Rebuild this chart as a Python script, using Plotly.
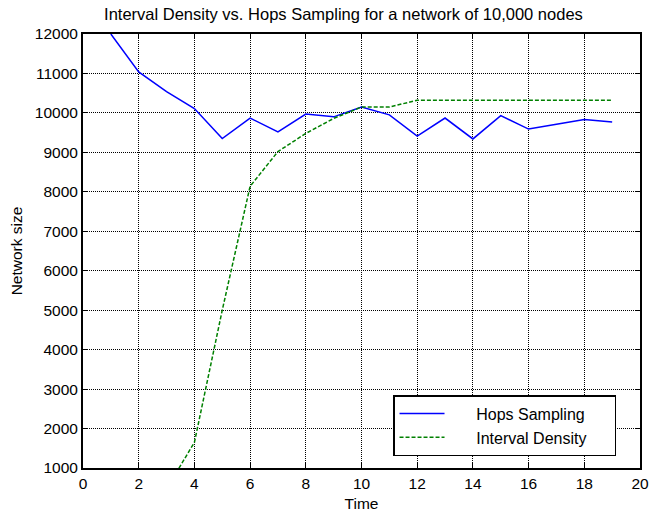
import plotly.graph_objects as go

hops_t = [1, 2, 3, 4, 5, 6, 7, 8, 9, 10, 11, 12, 13, 14, 15, 16, 17, 18, 19]
hops_v = [12000, 11040, 10540, 10110, 9350, 9870, 9520, 9970, 9900, 10150,
          9950, 9410, 9870, 9340, 9930, 9590, 9710, 9830, 9770]

dens_t = [3, 4, 5, 6, 7, 8, 9, 10, 11, 12, 13, 14, 15, 16, 17, 18, 19]
dens_v = [470, 1650, 5000, 8140, 9020, 9480, 9860, 10150, 10150, 10320,
          10320, 10320, 10320, 10320, 10320, 10320, 10320]

series_names = ["Hops Sampling", "Interval Density"]

x_ticks = list(range(0, 21, 2))
y_ticks = list(range(1000, 12001, 1000))

font = "Liberation Sans, Arial, Helvetica, sans-serif"
tick_font = dict(size=15.5, color="black", family=font)

lead = "\u00a0" * 6
trail = "\u00a0" * 5

fig = go.Figure()
fig.add_trace(go.Scatter(x=hops_t, y=hops_v, mode="lines", name=lead + series_names[0],
                         line=dict(color="#0000FF", width=1.5)))
fig.add_trace(go.Scatter(x=dens_t, y=dens_v, mode="lines", name=lead + series_names[1] + trail,
                         line=dict(color="#008000", width=1.5, dash="4px,2px")))

axis_common = dict(
    showline=True, linecolor="black", linewidth=2, mirror="ticks",
    ticks="inside", ticklen=5, tickcolor="black", tickwidth=1,
    showgrid=True, gridcolor="black", griddash="1px,1px", gridwidth=1,
    zeroline=False, tickfont=tick_font, automargin=False,
)

fig.update_xaxes(range=[0, 20], tickvals=x_ticks, tickformat="d",
                 title=dict(text="Time", font=tick_font, standoff=12), **axis_common)
fig.update_yaxes(range=[1000, 12000], tickvals=y_ticks, tickformat="d",
                 title=dict(text="Network size", font=tick_font, standoff=8), **axis_common)

fig.update_layout(
    width=651, height=512,
    margin=dict(l=83, r=11, t=34, b=44, autoexpand=False),
    plot_bgcolor="white", paper_bgcolor="white",
    font=dict(family=font, size=15.5, color="black"),
    title=dict(text="Interval Density vs. Hops Sampling for a network of 10,000 nodes",
               x=0.5276, xref="container", xanchor="center",
               y=0.9727, yref="container", yanchor="middle",
               font=dict(size=16.5, color="black", family=font)),
    legend=dict(x=0.5566, y=0.168, xanchor="left", yanchor="top",
                bgcolor="white", bordercolor="black", borderwidth=1.5,
                font=dict(size=16, color="black", family=font),
                itemwidth=45, tracegroupgap=0),
    showlegend=True,
)

fig.write_html("out.html")
